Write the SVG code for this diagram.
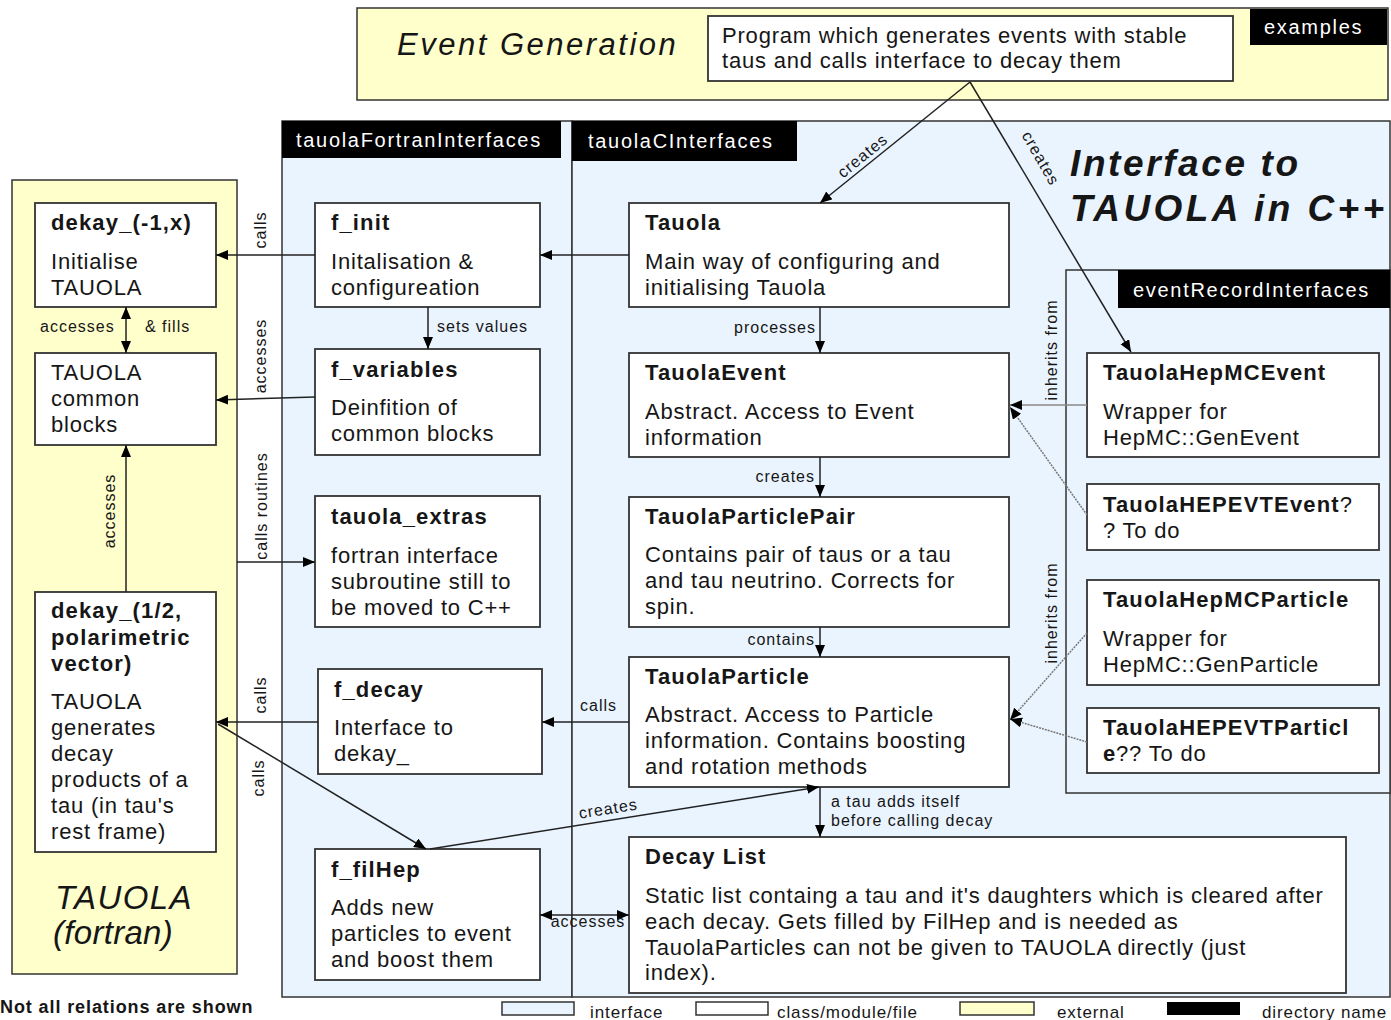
<svg xmlns="http://www.w3.org/2000/svg" width="1391" height="1020" viewBox="0 0 1391 1020">
<defs>
<marker id="ah" markerUnits="userSpaceOnUse" markerWidth="13" markerHeight="11" refX="12" refY="5" orient="auto-start-reverse" viewBox="0 0 13 11"><path d="M0,0 L12,5 L0,10 z" fill="#000"/></marker>
</defs>
<style>
text{font-family:"Liberation Sans",Arial,sans-serif;fill:#161616}
.b{font-size:22px;letter-spacing:0.8px}
.h{font-size:22px;font-weight:bold;letter-spacing:1.15px}
.l{font-size:16px;letter-spacing:1px}
.tab{font-size:20px;letter-spacing:1.7px;fill:#fff}
.node{fill:#fff;stroke:#333;stroke-width:1.8}
.pb{fill:#EAF4FF;stroke:#333;stroke-width:1.5}
.py{fill:#FFFFCC;stroke:#333;stroke-width:1.5}
.blk{fill:#000}
.c{fill:none;stroke:#222;stroke-width:1.5}
.g{fill:none;stroke:#888;stroke-width:1.5}
.d{fill:none;stroke:#777;stroke-width:1.5;stroke-dasharray:2 1}
.big{font-size:37px;font-weight:bold;font-style:italic;letter-spacing:2.6px}
</style>

<!-- panels -->
<g id="panel-eventgen">
<rect class="py" x="357" y="8" width="1031" height="92"/>
<text x="397" y="55" style="font-size:31px;font-style:italic;letter-spacing:2.5px">Event Generation</text>
<rect class="blk" x="1250" y="9" width="137" height="36"/>
<text class="tab" x="1264" y="34">examples</text>
</g>
<g id="panel-fortran-if">
<rect class="pb" x="282" y="121" width="290" height="876"/>
<rect class="blk" x="282" y="121" width="279" height="37"/>
<text class="tab" x="296" y="147">tauolaFortranInterfaces</text>
</g>
<g id="panel-c-if">
<rect class="pb" x="572" y="121" width="818" height="876"/>
<rect class="blk" x="572" y="121" width="225" height="40"/>
<text class="tab" x="588" y="148">tauolaCInterfaces</text>
<text class="big" x="1070" y="176">Interface to</text>
<text class="big" x="1070" y="221" style="letter-spacing:3.4px">TAUOLA in C++</text>
</g>
<g id="panel-eventrecord">
<rect class="pb" x="1066" y="270" width="324" height="523"/>
<rect class="blk" x="1118" y="270" width="272" height="38"/>
<text class="tab" x="1133" y="297">eventRecordInterfaces</text>
</g>
<g id="panel-tauola">
<rect class="py" x="12" y="180" width="225" height="794"/>
<text x="55" y="909" style="font-size:33px;font-style:italic;letter-spacing:1.4px">TAUOLA</text>
<text x="53" y="944" style="font-size:33px;font-style:italic;letter-spacing:0.3px">(fortran)</text>
</g>

<!-- nodes -->
<g id="program">
<rect class="node" x="708" y="16" width="525" height="65"/>
<text class="b" x="722" y="43">Program which generates events with stable</text>
<text class="b" x="722" y="68">taus and calls interface to decay them</text>
</g>
<g id="dekay-init">
<rect class="node" x="35" y="203" width="181" height="104"/>
<text class="h" x="51" y="230">dekay_(-1,x)</text>
<text class="b" x="51" y="269">Initialise</text>
<text class="b" x="51" y="295">TAUOLA</text>
</g>
<g id="common-blocks">
<rect class="node" x="35" y="353" width="181" height="92"/>
<text class="b" x="51" y="380">TAUOLA</text>
<text class="b" x="51" y="406">common</text>
<text class="b" x="51" y="432">blocks</text>
</g>
<g id="dekay-decay">
<rect class="node" x="35" y="592" width="181" height="260"/>
<text class="h" x="51" y="618">dekay_(1/2,</text>
<text class="h" x="51" y="645">polarimetric</text>
<text class="h" x="51" y="671">vector)</text>
<text class="b" x="51" y="709">TAUOLA</text>
<text class="b" x="51" y="735">generates</text>
<text class="b" x="51" y="761">decay</text>
<text class="b" x="51" y="787">products of a</text>
<text class="b" x="51" y="813">tau (in tau's</text>
<text class="b" x="51" y="839">rest frame)</text>
</g>
<g id="f_init">
<rect class="node" x="315" y="203" width="225" height="104"/>
<text class="h" x="331" y="230">f_init</text>
<text class="b" x="331" y="269">Initalisation &amp;</text>
<text class="b" x="331" y="295">configureation</text>
</g>
<g id="f_variables">
<rect class="node" x="315" y="349" width="225" height="106"/>
<text class="h" x="331" y="377">f_variables</text>
<text class="b" x="331" y="415">Deinfition of</text>
<text class="b" x="331" y="441">common blocks</text>
</g>
<g id="tauola_extras">
<rect class="node" x="315" y="496" width="225" height="131"/>
<text class="h" x="331" y="524">tauola_extras</text>
<text class="b" x="331" y="563">fortran interface</text>
<text class="b" x="331" y="589">subroutine still to</text>
<text class="b" x="331" y="615">be moved to C++</text>
</g>
<g id="f_decay">
<rect class="node" x="318" y="669" width="224" height="105"/>
<text class="h" x="334" y="697">f_decay</text>
<text class="b" x="334" y="735">Interface to</text>
<text class="b" x="334" y="761">dekay_</text>
</g>
<g id="f_filHep">
<rect class="node" x="315" y="849" width="225" height="131"/>
<text class="h" x="331" y="877">f_filHep</text>
<text class="b" x="331" y="915">Adds new</text>
<text class="b" x="331" y="941">particles to event</text>
<text class="b" x="331" y="967">and boost them</text>
</g>
<g id="Tauola">
<rect class="node" x="629" y="203" width="380" height="104"/>
<text class="h" x="645" y="230">Tauola</text>
<text class="b" x="645" y="269">Main way of configuring and</text>
<text class="b" x="645" y="295">initialising Tauola</text>
</g>
<g id="TauolaEvent">
<rect class="node" x="629" y="353" width="380" height="104"/>
<text class="h" x="645" y="380">TauolaEvent</text>
<text class="b" x="645" y="419">Abstract. Access to Event</text>
<text class="b" x="645" y="445">information</text>
</g>
<g id="TauolaParticlePair">
<rect class="node" x="629" y="497" width="380" height="130"/>
<text class="h" x="645" y="524">TauolaParticlePair</text>
<text class="b" x="645" y="562">Contains pair of taus or a tau</text>
<text class="b" x="645" y="588">and tau neutrino. Corrects for</text>
<text class="b" x="645" y="614">spin.</text>
</g>
<g id="TauolaParticle">
<rect class="node" x="629" y="657" width="380" height="130"/>
<text class="h" x="645" y="684">TauolaParticle</text>
<text class="b" x="645" y="722">Abstract. Access to Particle</text>
<text class="b" x="645" y="748">information. Contains boosting</text>
<text class="b" x="645" y="774">and rotation methods</text>
</g>
<g id="DecayList">
<rect class="node" x="629" y="837" width="717" height="156"/>
<text class="h" x="645" y="864">Decay List</text>
<text class="b" x="645" y="903">Static list containg a tau and it's daughters which is cleared after</text>
<text class="b" x="645" y="929">each decay. Gets filled by FilHep and is needed as</text>
<text class="b" x="645" y="955">TauolaParticles can not be given to TAUOLA directly (just</text>
<text class="b" x="645" y="980">index).</text>
</g>
<g id="TauolaHepMCEvent">
<rect class="node" x="1087" y="353" width="292" height="104"/>
<text class="h" x="1103" y="380">TauolaHepMCEvent</text>
<text class="b" x="1103" y="419">Wrapper for</text>
<text class="b" x="1103" y="445">HepMC::GenEvent</text>
</g>
<g id="TauolaHEPEVTEvent">
<rect class="node" x="1087" y="484" width="292" height="66"/>
<text class="b" x="1103" y="512"><tspan style="font-weight:bold;letter-spacing:1.15px">TauolaHEPEVTEvent</tspan>?</text>
<text class="b" x="1103" y="538">? To do</text>
</g>
<g id="TauolaHepMCParticle">
<rect class="node" x="1087" y="580" width="292" height="105"/>
<text class="h" x="1103" y="607">TauolaHepMCParticle</text>
<text class="b" x="1103" y="646">Wrapper for</text>
<text class="b" x="1103" y="672">HepMC::GenParticle</text>
</g>
<g id="TauolaHEPEVTParticle">
<rect class="node" x="1087" y="708" width="292" height="65"/>
<text class="h" x="1103" y="735">TauolaHEPEVTParticl</text>
<text class="b" x="1103" y="761"><tspan style="font-weight:bold">e</tspan>?? To do</text>
</g>

<!-- connectors -->
<g id="connectors">
<path class="c" d="M970,82 L820,203" marker-end="url(#ah)"/>
<path class="c" d="M970,82 L1131,352" marker-end="url(#ah)"/>
<path class="c" d="M315,255 L216,255" marker-end="url(#ah)"/>
<path class="c" d="M629,255 L540,255" marker-end="url(#ah)"/>
<path class="c" d="M126,307 L126,353" marker-start="url(#ah)" marker-end="url(#ah)"/>
<path class="c" d="M428,307 L428,349" marker-end="url(#ah)"/>
<path class="c" d="M315,397 L216,400" marker-end="url(#ah)"/>
<path class="c" d="M126,592 L126,445" marker-end="url(#ah)"/>
<path class="c" d="M237,562 L315,562" marker-end="url(#ah)"/>
<path class="c" d="M318,722 L216,722" marker-end="url(#ah)"/>
<path class="c" d="M629,722 L542,722" marker-end="url(#ah)"/>
<path class="c" d="M218,724 L426,849" marker-end="url(#ah)"/>
<path class="c" d="M430,849 L819,787" marker-end="url(#ah)"/>
<path class="c" d="M820,787 L820,837" marker-end="url(#ah)"/>
<path class="c" d="M540,915 L629,915" marker-start="url(#ah)" marker-end="url(#ah)"/>
<path class="c" d="M820,307 L820,353" marker-end="url(#ah)"/>
<path class="c" d="M820,457 L820,497" marker-end="url(#ah)"/>
<path class="c" d="M820,627 L820,657" marker-end="url(#ah)"/>
<path class="g" d="M1087,405 L1010,405" marker-end="url(#ah)"/>
<path class="d" d="M1087,515 L1010,407" marker-end="url(#ah)"/>
<path class="d" d="M1087,633 L1010,720" marker-end="url(#ah)"/>
<path class="d" d="M1087,742 L1010,719" marker-end="url(#ah)"/>

<text class="l" text-anchor="middle" transform="translate(866,160) rotate(-39)">creates</text>
<text class="l" text-anchor="middle" transform="translate(1036,161) rotate(60)">creates</text>
<text class="l" text-anchor="middle" transform="translate(266,230) rotate(-90)">calls</text>
<text class="l" text-anchor="middle" transform="translate(266,356) rotate(-90)">accesses</text>
<text class="l" text-anchor="middle" transform="translate(267,506) rotate(-90)">calls routines</text>
<text class="l" text-anchor="middle" transform="translate(266,695) rotate(-90)">calls</text>
<text class="l" text-anchor="middle" transform="translate(264,778) rotate(-90)">calls</text>
<text class="l" text-anchor="middle" transform="translate(115,511) rotate(-90)">accesses</text>
<text class="l" text-anchor="middle" transform="translate(1057,350) rotate(-90)">inherits from</text>
<text class="l" text-anchor="middle" transform="translate(1057,613) rotate(-90)">inherits from</text>
<text class="l" x="40" y="332">accesses</text>
<text class="l" x="145" y="332">&amp; fills</text>
<text class="l" x="437" y="332">sets values</text>
<text class="l" x="816" y="333" text-anchor="end">processes</text>
<text class="l" x="815" y="482" text-anchor="end">creates</text>
<text class="l" x="815" y="645" text-anchor="end">contains</text>
<text class="l" x="580" y="711">calls</text>
<text class="l" x="831" y="807">a tau adds itself</text>
<text class="l" x="831" y="826">before calling decay</text>
<text class="l" x="588" y="927" text-anchor="middle">accesses</text>
<text class="l" text-anchor="middle" transform="translate(609,814) rotate(-9)">creates</text>
</g>

<!-- legend -->
<g id="legend">
<text x="0" y="1013" style="font-size:18px;font-weight:bold;letter-spacing:0.9px">Not all relations are shown</text>
<rect x="502" y="1002" width="72" height="13" fill="#EAF4FF" stroke="#333" stroke-width="1.5"/>
<text x="590" y="1018" style="font-size:17px;letter-spacing:0.9px">interface</text>
<rect x="696" y="1002" width="72" height="13" fill="#fff" stroke="#333" stroke-width="1.5"/>
<text x="777" y="1018" style="font-size:17px;letter-spacing:0.9px">class/module/file</text>
<rect x="960" y="1002" width="74" height="13" fill="#FFFFCC" stroke="#333" stroke-width="1.5"/>
<text x="1057" y="1018" style="font-size:17px;letter-spacing:0.9px">external</text>
<rect x="1167" y="1002" width="73" height="13" fill="#000"/>
<text x="1262" y="1018" style="font-size:17px;letter-spacing:0.9px">directory name</text>
</g>
</svg>
